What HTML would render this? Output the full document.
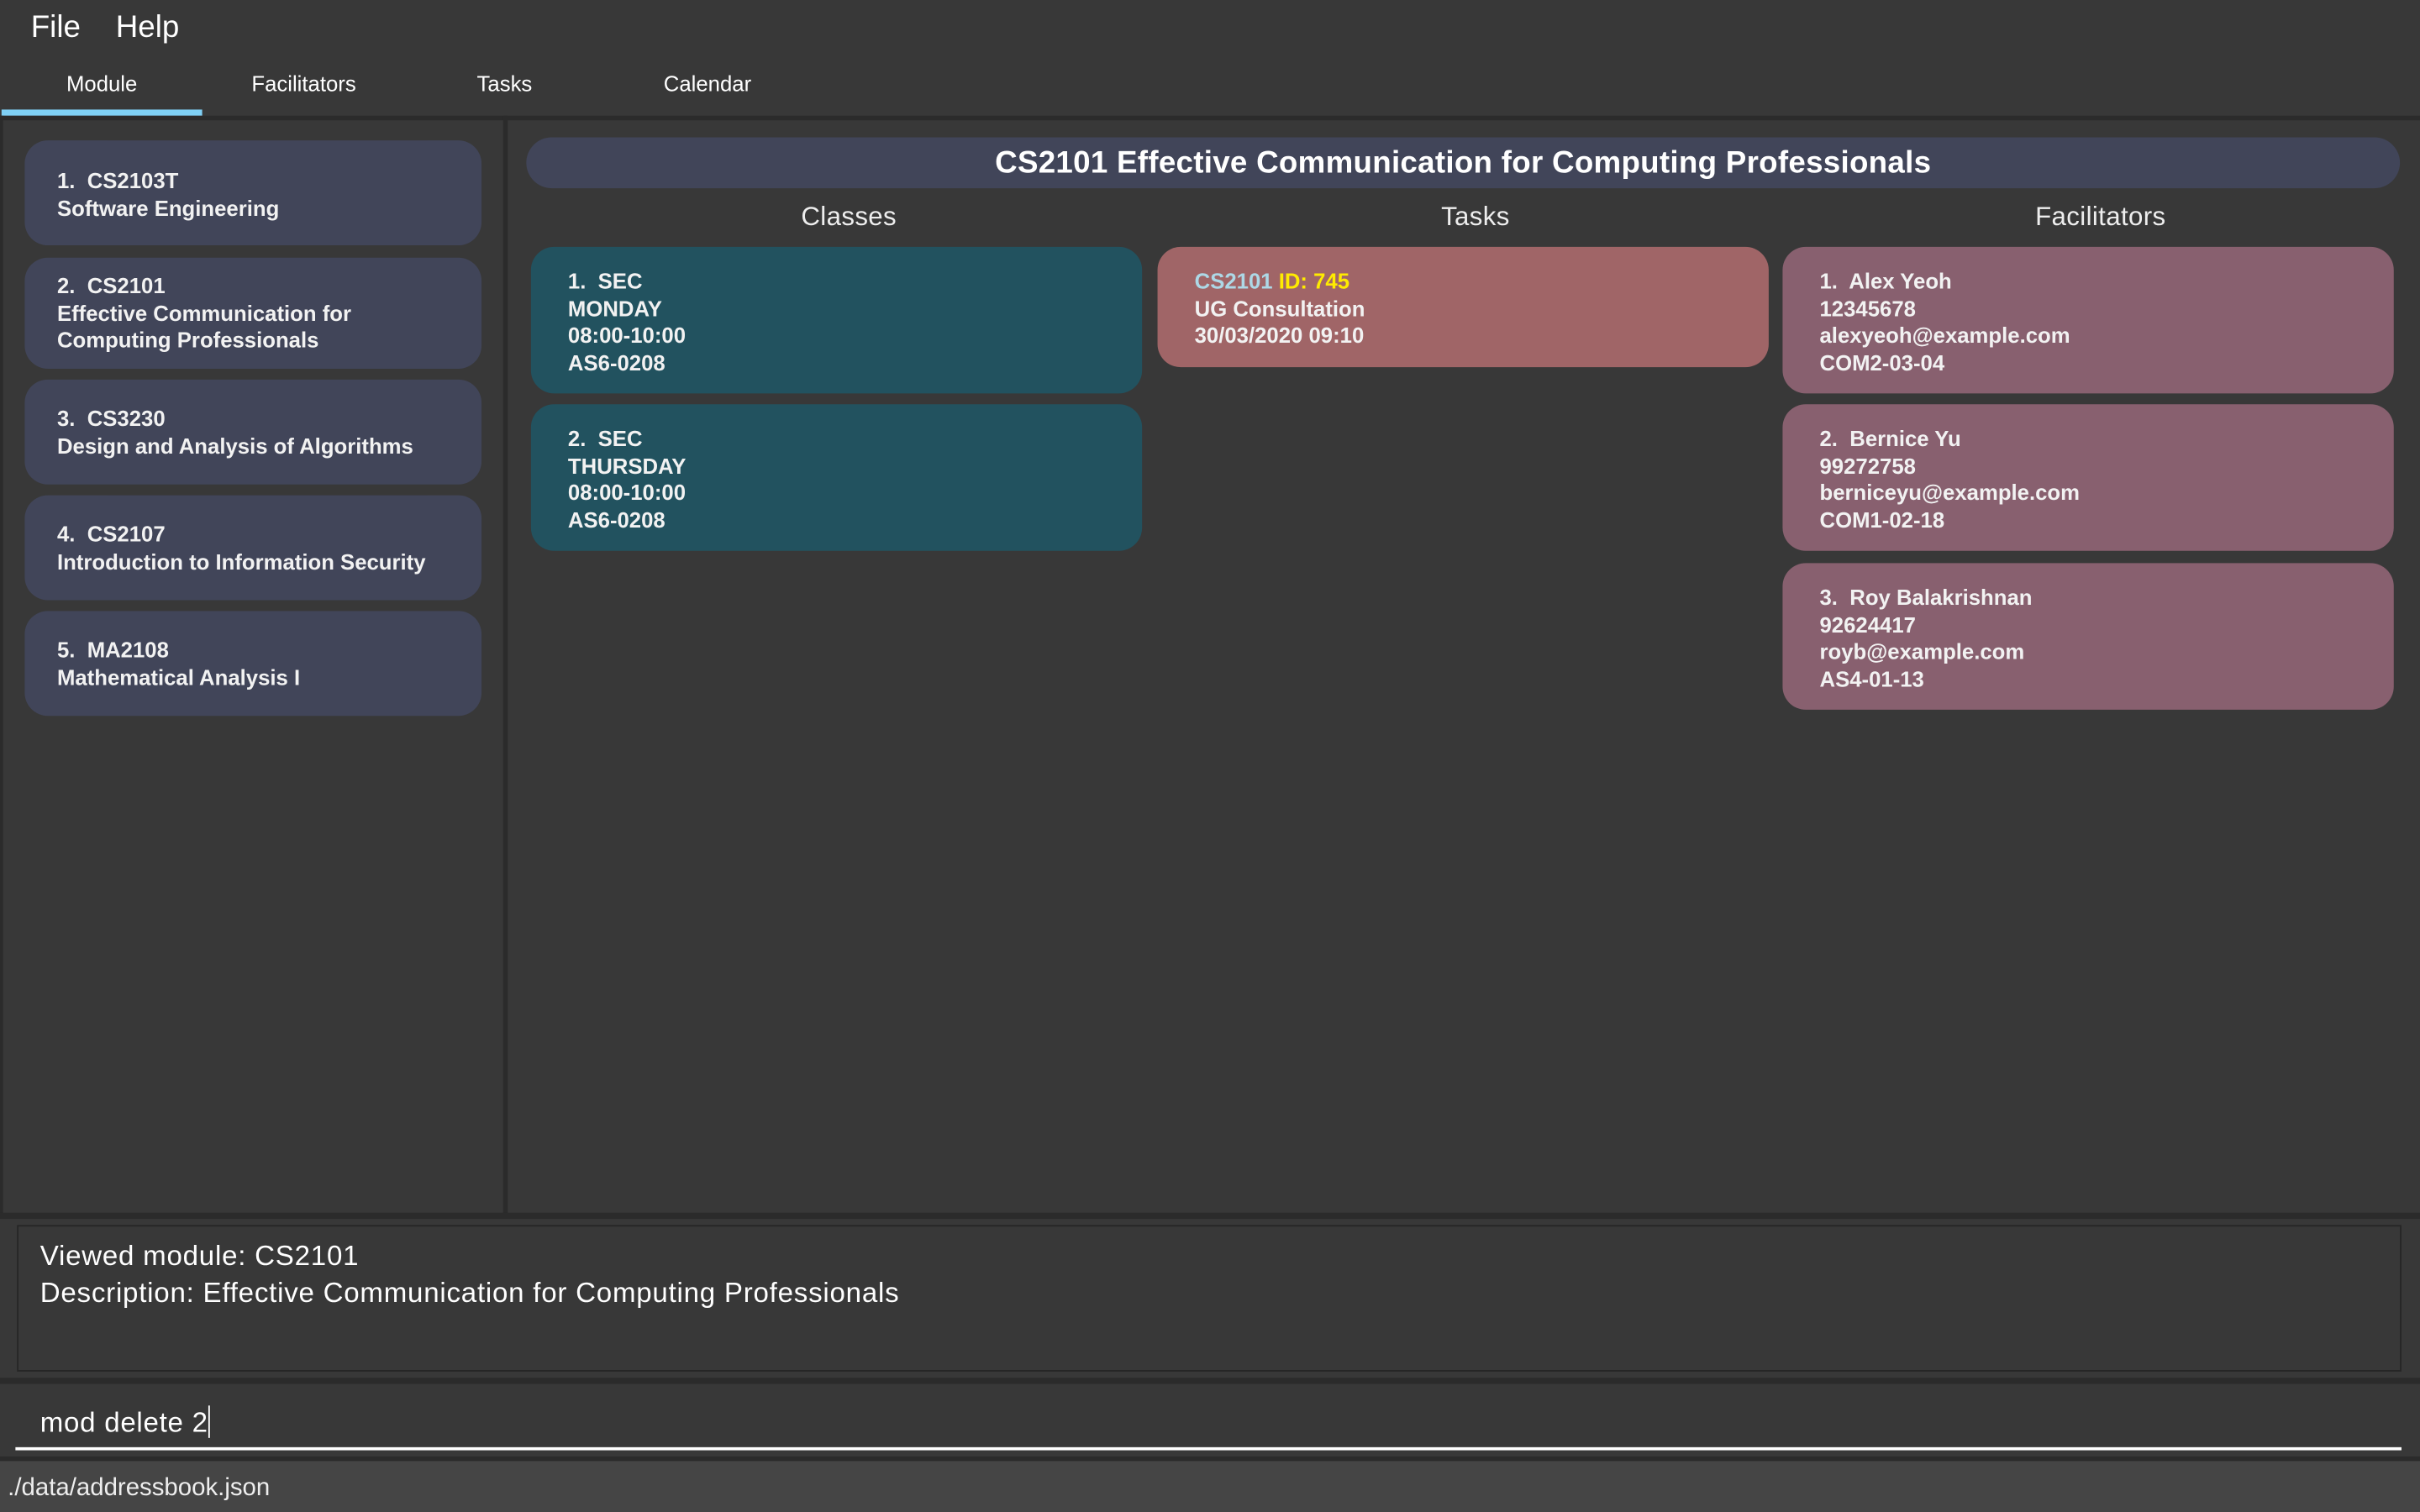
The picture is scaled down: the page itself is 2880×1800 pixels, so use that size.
<!DOCTYPE html>
<html><head><meta charset="utf-8"><style>
*{margin:0;padding:0;box-sizing:border-box}
html,body{width:2880px;height:1800px;overflow:hidden;background:#383838}
#s{position:absolute;left:0;top:0;width:1568px;height:980px;transform:scale(1.8367347);transform-origin:0 0;font-family:Arial,"Liberation Sans",Helvetica,sans-serif;color:#fff}
#s *{font-family:Arial,"Liberation Sans",Helvetica,sans-serif}
.a{position:absolute}
.card{position:absolute;border-radius:15px;font-weight:bold;font-size:14px;line-height:17.5px;padding-left:24px;color:#f2f2f2}
.m{background:#414559;left:16px;width:296px;padding-left:21px}
.c{background:#22525f;left:344px;width:396px}
.f{background:#88606f;left:1155px;width:396px}
.hd{position:absolute;top:131px;font-size:17px;width:400px;text-align:center;color:#eee;letter-spacing:0.2px}
</style></head><body><div id="s">
<div class="a" style="left:20px;top:7px;font-size:20px">File</div>
<div class="a" style="left:75px;top:7px;font-size:20px">Help</div>
<div class="a" style="left:43px;top:46px;font-size:14px">Module</div>
<div class="a" style="left:163px;top:46px;font-size:14px">Facilitators</div>
<div class="a" style="left:309px;top:46px;font-size:14px">Tasks</div>
<div class="a" style="left:430px;top:46px;font-size:14px">Calendar</div>
<div class="a" style="left:1px;top:71px;width:130px;height:4px;background:#7fd0f5"></div>
<div class="a" style="left:0;top:75px;width:1568px;height:3px;background:#2b2b2b"></div>
<div class="a" style="left:0;top:75px;width:2px;height:715px;background:#2b2b2b"></div>
<div class="a" style="left:326px;top:75px;width:3px;height:715px;background:#2b2b2b"></div>

<div class="card m" style="top:91px;height:68px;padding-top:18px">1.&nbsp; CS2103T<br>Software Engineering</div>
<div class="card m" style="top:167px;height:72px;padding-top:10px">2.&nbsp; CS2101<br>Effective Communication for<br>Computing Professionals</div>
<div class="card m" style="top:246px;height:68px;padding-top:17px">3.&nbsp; CS3230<br>Design and Analysis of Algorithms</div>
<div class="card m" style="top:321px;height:68px;padding-top:17px">4.&nbsp; CS2107<br>Introduction to Information Security</div>
<div class="card m" style="top:396px;height:68px;padding-top:17px">5.&nbsp; MA2108<br>Mathematical Analysis I</div>

<div class="a" style="left:341px;top:89px;width:1214px;height:33px;border-radius:17px;background:#414559;text-align:center;font-weight:bold;font-size:20px;line-height:35px;letter-spacing:0.15px">CS2101 Effective Communication for Computing Professionals</div>
<div class="hd" style="left:350px">Classes</div>
<div class="hd" style="left:756px">Tasks</div>
<div class="hd" style="left:1161px">Facilitators</div>

<div class="card c" style="top:160px;height:95px;padding-top:14px">1.&nbsp; SEC<br>MONDAY<br>08:00-10:00<br>AS6-0208</div>
<div class="card c" style="top:262px;height:95px;padding-top:14px">2.&nbsp; SEC<br>THURSDAY<br>08:00-10:00<br>AS6-0208</div>
<div class="card" style="background:#a06567;left:750px;width:396px;top:160px;height:78px;padding-top:14px"><span style="color:#add8e6">CS2101</span> <span style="color:#ffeb00">ID: 745</span><br>UG Consultation<br>30/03/2020 09:10</div>
<div class="card f" style="top:160px;height:95px;padding-top:14px">1.&nbsp; Alex Yeoh<br>12345678<br>alexyeoh@example.com<br>COM2-03-04</div>
<div class="card f" style="top:262px;height:95px;padding-top:14px">2.&nbsp; Bernice Yu<br>99272758<br>berniceyu@example.com<br>COM1-02-18</div>
<div class="card f" style="top:365px;height:95px;padding-top:14px">3.&nbsp; Roy Balakrishnan<br>92624417<br>royb@example.com<br>AS4-01-13</div>

<div class="a" style="left:0;top:786px;width:1568px;height:4px;background:#2b2b2b"></div>
<div class="a" style="left:11px;top:794px;width:1545px;height:95px;border:1px solid #262626"></div>
<div class="a" style="left:26px;top:802px;font-size:18px;line-height:24px;letter-spacing:0.42px">Viewed module: CS2101<br>Description: Effective Communication for Computing Professionals</div>
<div class="a" style="left:0;top:893px;width:1568px;height:4px;background:#2b2b2b"></div>
<div class="a" style="left:26px;top:911px;font-size:18px;letter-spacing:0.4px">mod delete 2<span style="display:inline-block;width:1px;height:21px;background:#fff;vertical-align:-4px"></span></div>
<div class="a" style="left:10px;top:938px;width:1546px;height:2px;background:#fff"></div>
<div class="a" style="left:0;top:944px;width:1568px;height:3px;background:#2b2b2b"></div>
<div class="a" style="left:0;top:947px;width:1568px;height:33px;background:#454545"></div>
<div class="a" style="left:5px;top:956px;font-size:16px;color:#eee">./data/addressbook.json</div>
</div></body></html>
